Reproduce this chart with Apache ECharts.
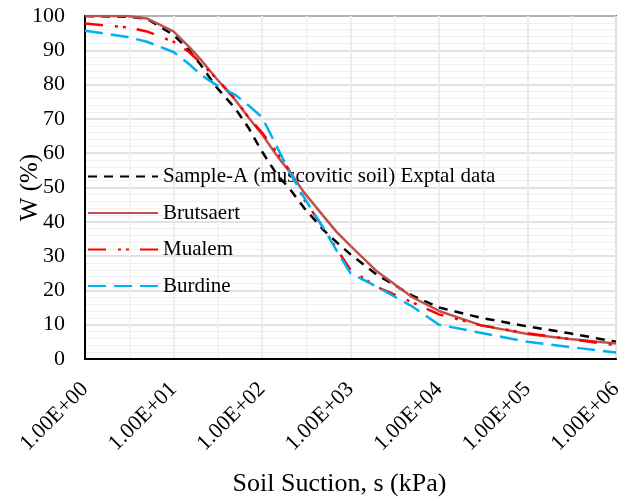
<!DOCTYPE html>
<html>
<head>
<meta charset="utf-8">
<script src="https://cdn.jsdelivr.net/npm/echarts@6/dist/echarts.min.js"></script>
<style>
  html, body { margin: 0; padding: 0; background: #fff; }
  #chart { width: 635px; height: 498px; }
</style>
</head>
<body>
<div id="chart"></div>
<script>
// soil suction, kPa
var suction = [1, 3, 5, 10, 15, 20, 30, 50, 70, 100, 150, 200, 300, 500, 700, 1000, 2000, 5000, 10000, 30000, 100000, 300000, 1000000]
// water content W (%)
var sampleA = [100, 99.8, 99.2, 94.5, 90, 86, 79.5, 73, 67.5, 60.5, 53.5, 50, 44, 37.5, 34, 30.5, 24.5, 18.5, 15, 12, 9.5, 7.5, 5]
var brutsaert = [100, 100, 99.3, 95.5, 91, 87.5, 82, 75.5, 70.5, 65.5, 59, 55, 48.5, 41.5, 37, 33, 25.5, 18, 14, 9.8, 7.3, 5.8, 4.5]
var mualem = [97.8, 96.7, 95.5, 92.5, 89.5, 86.5, 82, 75.8, 70.5, 66, 60, 55.3, 46.5, 38, 32, 26, 21, 16.5, 13, 9.8, 7.5, 5.8, 4]
var burdine = [95.7, 93.9, 92.5, 89.5, 86, 83, 80, 77, 74, 70.5, 61.5, 55, 47, 38, 31.5, 25, 21, 15.3, 10, 7.6, 5, 3.5, 1.9]
var seriesNames = ['Sample-A (muscovitic soil) Exptal data', 'Brutsaert', 'Mualem', 'Burdine']

var font = 'Liberation Serif'

function pairs(ys) {
  return suction.map(function (s, i) { return [s, ys[i]] })
}

function makeLine(name, ys, color, width, dash) {
  return {
    name: name,
    type: 'line',
    data: pairs(ys),
    symbol: 'none',
    z: 3,
    itemStyle: { color: color },
    lineStyle: { color: color, width: width, type: dash }
  }
}

var chart = echarts.init(document.getElementById('chart'))
chart.setOption({
  animation: false,
  grid: {
    left: 85,
    right: 19,
    top: 16,
    bottom: 139,
    outerBoundsMode: 'none',
    show: true,
    borderColor: '#000',
    borderWidth: 1.5
  },
  legend: {
    data: seriesNames,
    orient: 'vertical',
    left: 87,
    top: 166,
    padding: 0,
    itemWidth: 70,
    itemHeight: 14,
    itemGap: 15.5,
    z: 1,
    itemStyle: { opacity: 0 },
    textStyle: { fontFamily: font, fontSize: 21, color: '#000' }
  },
  xAxis: [{
    type: 'log',
    logBase: 10,
    min: 1,
    max: 1000000,
    name: 'Soil Suction, s (kPa)',
    nameLocation: 'middle',
    nameGap: 112,
    nameTextStyle: { fontFamily: font, fontSize: 26, color: '#000', padding: [0, 22, 0, 0] },
    axisLine: { lineStyle: { color: '#000', width: 2 } },
    axisTick: { show: false },
    axisLabel: {
      rotate: 45,
      margin: 27,
      fontFamily: font,
      fontSize: 22,
      color: '#000',
      formatter: function (v) {
        var e = Math.round(Math.log10(v))
        return '1.00E+' + (e < 10 ? '0' : '') + e
      }
    },
    splitLine: { show: true, lineStyle: { color: '#D9D9D9', width: 1.5 } }
  }, {
    // half-decade minor grid lines
    type: 'value',
    min: 0,
    max: 6,
    interval: 0.5,
    position: 'bottom',
    z: 0,
    axisLine: { show: false },
    axisTick: { show: false },
    axisLabel: { show: false },
    splitLine: { show: true, lineStyle: { color: '#F0F0F0', width: 1.5 } }
  }],
  yAxis: {
    type: 'value',
    min: 0,
    max: 100,
    interval: 10,
    name: 'W (%)',
    nameLocation: 'middle',
    nameGap: 42,
    nameMoveOverlap: false,
    nameTextStyle: { fontFamily: font, fontSize: 25, color: '#000' },
    axisLine: { show: true, lineStyle: { color: '#000', width: 2 } },
    axisTick: { show: false },
    axisLabel: { margin: 20, fontFamily: font, fontSize: 22, color: '#000' },
    splitLine: { show: true, lineStyle: { color: '#D9D9D9', width: 1.5 } },
    minorTick: { show: false, splitNumber: 5 },
    minorSplitLine: { show: true, lineStyle: { color: '#F0F0F0', width: 1 } }
  },
  series: [
    makeLine(seriesNames[0], sampleA, '#000000', 2.5, [9, 7]),
    makeLine(seriesNames[1], brutsaert, '#C0504D', 2.5, 'solid'),
    makeLine(seriesNames[2], mualem, '#FF0000', 2.5, [18, 12, 3, 5, 3, 11]),
    makeLine(seriesNames[3], burdine, '#00B0F0', 2.5, [18, 8])
  ]
})
</script>
</body>
</html>
